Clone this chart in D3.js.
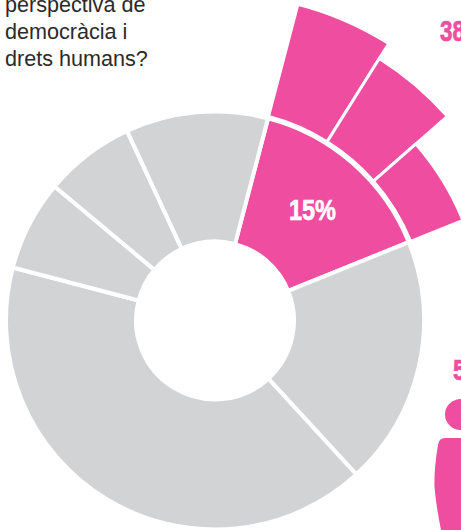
<!DOCTYPE html>
<html>
<head>
<meta charset="utf-8">
<script src="https://d3js.org/d3.v7.min.js"></script>
<style>
  html, body { margin: 0; padding: 0; background: #fff; overflow: hidden; }
  svg { display: block; }
</style>
</head>
<body>
<div id="chart"></div>
<script>
// Data
var questionLines = ["perspectiva de", "democràcia i", "drets humans?"];
var ringValues = [14.8, 19.3, 40.9, 7, 7, 11];
var ringHighlight = [true, false, false, false, false, false];
var outerShares = [17.4, 16.6, 19.3];
var outerValues = [38, 32.2, 18.5];
var ringLabel = "15%";
var sideLabels = ["38%", "5%"];

// Size
var width = 461;
var height = 530;
var cx = 215;
var cy = 320.5;
var innerR = 79;
var outerR = 209;
var startDeg = 14.7;

var pink = "#ef4d9f";
var grey = "#d1d3d4";
var toRad = Math.PI / 180;

var svg = d3.select("#chart")
  .append("svg")
  .attr("width", width)
  .attr("height", height);

// Question text, cut by the top of the page
svg.append("g")
  .selectAll("text")
  .data(questionLines)
  .enter()
  .append("text")
    .attr("x", 5)
    .attr("y", (d, i) => 12 + i * 27)
    .attr("font-family", "Liberation Sans")
    .attr("font-size", 21.6)
    .attr("fill", "#2b2a29")
    .text(d => d);

var chart = svg.append("g")
  .attr("transform", "translate(" + cx + "," + cy + ")");

// Main ring
var pie = d3.pie()
  .sort(null)
  .startAngle(startDeg * toRad)
  .endAngle((startDeg + 360) * toRad);

var ringSlices = pie(ringValues);

var ringArc = d3.arc()
  .innerRadius(innerR)
  .outerRadius(outerR);

chart.append("g")
  .selectAll("path")
  .data(ringSlices)
  .enter()
  .append("path")
    .attr("d", ringArc)
    .attr("fill", (d, i) => ringHighlight[i] ? pink : grey)
    .attr("stroke", "#fff")
    .attr("stroke-width", 4);

// Outer sectors spread over the pink slice, length follows the value
var outerPie = d3.pie()
  .sort(null)
  .startAngle(ringSlices[0].startAngle)
  .endAngle(ringSlices[0].endAngle);

var lengthScale = d3.scaleLinear()
  .domain([0, 38])
  .range([211, 327]);

var outerArc = d3.arc()
  .innerRadius(211)
  .outerRadius((d, i) => lengthScale(outerValues[i]));

chart.append("g")
  .selectAll("path")
  .data(outerPie(outerShares))
  .enter()
  .append("path")
    .attr("d", outerArc)
    .attr("fill", pink)
    .attr("stroke", "#fff")
    .attr("stroke-width", 3);

// Condensed bold labels: no narrow face is installed, so squeeze the bold one
function condensedLabel(x, y, txt, color, len) {
  svg.append("text")
    .attr("x", x)
    .attr("y", y)
    .attr("font-family", "Liberation Sans")
    .attr("font-weight", "bold")
    .attr("font-size", 30)
    .attr("fill", color)
    .attr("stroke", color)
    .attr("stroke-width", 0.7)
    .attr("textLength", len)
    .attr("lengthAdjust", "spacingAndGlyphs")
    .text(txt);
}

condensedLabel(289, 220, ringLabel, "#fff", 47);
condensedLabel(440, 41, sideLabels[0], pink, 45);
condensedLabel(453, 380, sideLabels[1], pink, 34);

// Pictogram cut by the right side of the page
var person = svg.append("g").attr("fill", pink);
person.append("ellipse")
  .attr("cx", 461)
  .attr("cy", 414.5)
  .attr("rx", 16)
  .attr("ry", 15.5);
person.append("path")
  .attr("d", "M470,438 L445,438 Q439,438 438,445 Q434,468 434.5,487 Q436,505 441,530 L470,530 Z");
</script>
</body>
</html>
